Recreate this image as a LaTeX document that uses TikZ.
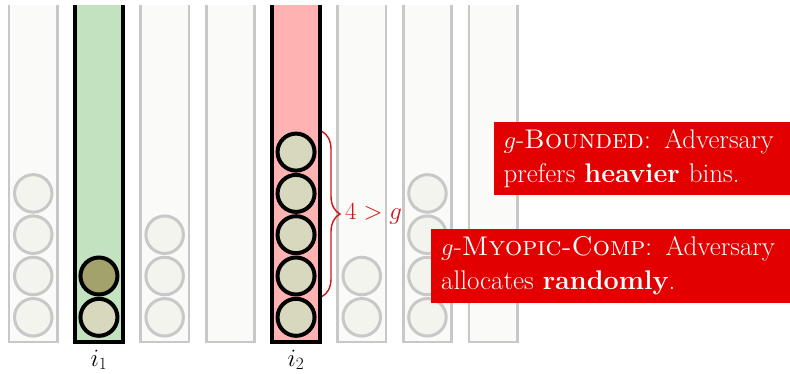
\documentclass[tikz,border=0pt]{standalone}
\usetikzlibrary{decorations.pathreplacing}
\definecolor{binfill}{RGB}{250,250,248}
\definecolor{ggray}{RGB}{200,200,200}
\definecolor{gballfill}{RGB}{243,244,238}
\definecolor{greenfill}{RGB}{194,226,192}
\definecolor{redfill}{RGB}{255,178,178}
\definecolor{darkball}{RGB}{163,162,108}
\definecolor{lightball}{RGB}{216,216,190}
\definecolor{boxred}{RGB}{226,0,0}
\definecolor{bracered}{RGB}{210,20,20}
\begin{document}
\begin{tikzpicture}[x=1pt,y=-1pt,
  grayball/.style={circle, draw=ggray, fill=gballfill, line width=3pt, minimum size=37.5pt, inner sep=0pt},
  blackball/.style={circle, draw=black, fill=lightball, line width=4pt, minimum size=37pt, inner sep=0pt},
  graybin/.style={draw=ggray, fill=binfill, line width=2.8pt},
  blackbin/.style={draw=black, line width=4.3pt},
  infobox/.style={anchor=north west, fill=boxred, text=white, align=left, inner xsep=10pt, inner ysep=0pt, font=\fontsize{27}{33.5}\selectfont},
  binlabel/.style={anchor=base, inner sep=0pt, font=\fontsize{24}{28}\selectfont}
]
\useasboundingbox (0,0) rectangle (790,373);
% gray bins
\foreach \k in {1,3,4,6,7,8} {
  \pgfmathsetmacro\l{9+65.7*(\k-1)}
  \path[graybin] (\l,5) -- (\l,342) -- (\l+48.5,342) -- (\l+48.5,5);
}
% highlighted bins
\path[blackbin, fill=greenfill] (74.7,5) -- (74.7,342) -- (123.2,342) -- (123.2,5);
\path[blackbin, fill=redfill] (271.8,5) -- (271.8,342) -- (320.3,342) -- (320.3,5);
% gray balls
\foreach \k/\n in {1/4,3/3,6/2,7/4} {
  \pgfmathsetmacro\cx{9+65.7*(\k-1)+24.25}
  \foreach \j in {1,...,\n} {
    \node[grayball] (g\k-\j) at (\cx, 317.3-41.3*\j+41.3) {};
  }
}
% bin i1 balls
\node[blackball] (a1) at (98.95,317.3) {};
\node[blackball, fill=darkball] (a2) at (98.95,276) {};
% bin i2 balls
\foreach \j in {1,...,5} {
  \node[blackball] (c\j) at (296.05, 317.3-41.3*\j+41.3) {};
}
% brace
\coordinate (bt) at (322,131.5);
\coordinate (bb) at (322,296.5);
\draw[bracered, line width=1.4pt, decorate, decoration={brace, amplitude=18pt}] (bt) -- (bb);
\node[text=bracered, anchor=west, inner xsep=2pt, font=\fontsize{23}{27}\selectfont] (lbl) at (343,214) {$4>g$};
% labels
\node[binlabel] (i1) at (98.95,366) {$i_1$};
\node[binlabel] (i2) at (296.05,366) {$i_2$};
% boxes
\node[infobox, minimum width=297pt, minimum height=73pt, text width=277pt] (box1) at (493.3,122)
  {$g$-\textsc{Bounded}: Adversary\\prefers \textbf{heavier} bins.};
\node[infobox, minimum width=359pt, minimum height=74pt, text width=339pt] (box2) at (431,228.3)
  {$g$-\textsc{Myopic-Comp}: Adversary\\allocates \textbf{randomly}.};
\end{tikzpicture}
\end{document}
